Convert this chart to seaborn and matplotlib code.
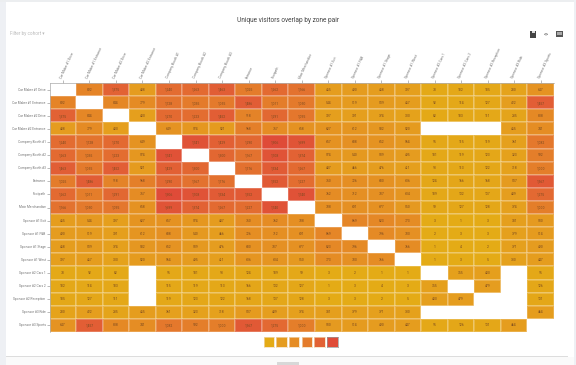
import numpy as np
import pandas as pd
import matplotlib
matplotlib.use('Agg')
import matplotlib.pyplot as plt
from matplotlib.colors import LinearSegmentedColormap
from matplotlib.patches import Rectangle
import seaborn as sns

zones = [
    'Car Maker #1 Drive', 'Car Maker #1 Entrance', 'Car Maker #2 Drive', 'Car Maker #2 Entrance',
    'Company Booth #1', 'Company Booth #2', 'Company Booth #3', 'Entrance', 'Footpath',
    'Main Merchandise', 'Sponsor #1 Exit', 'Sponsor #1 F&B', 'Sponsor #1 Stage', 'Sponsor #1 West',
    'Sponsor #2 Cars 1', 'Sponsor #2 Cars 2', 'Sponsor #2 Reception', 'Sponsor #3 Ride', 'Sponsor #3 Sports',
]

n = np.nan
overlap = [
    [n, 892, 1375, 488, 1240, 1263, 1463, 1025, 1262, 1166, 455, 490, 458, 397, 78, 102, 105, 280, 647],
    [892, n, 844, 779, 1128, 1035, 1055, 1486, 1011, 1050, 544, 519, 509, 457, 92, 114, 127, 422, 1457],
    [1375, 844, n, 400, 1270, 1223, 1452, 918, 1291, 1095, 397, 391, 374, 300, 82, 103, 111, 235, 808],
    [488, 779, 400, n, 649, 574, 521, 968, 757, 658, 627, 612, 582, 520, n, n, n, 455, 741],
    [1240, 1128, 1270, 649, n, 1741, 1429, 1290, 1906, 1699, 657, 688, 652, 564, 95, 115, 119, 361, 1082],
    [1263, 1035, 1223, 574, 1741, n, 1300, 1167, 1708, 1374, 574, 540, 539, 495, 101, 119, 123, 323, 992],
    [1463, 1055, 1452, 521, 1429, 1300, n, 1176, 1534, 1267, 487, 466, 476, 411, 93, 113, 122, 318, 1000],
    [1025, 1486, 918, 968, 1290, 1167, 1176, n, 1552, 1227, 750, 726, 680, 606, 124, 166, 168, 507, 1567],
    [1262, 1011, 1291, 757, 1906, 1708, 1534, 1552, n, 1740, 762, 712, 707, 604, 109, 132, 137, 439, 1275],
    [1166, 1050, 1095, 658, 1699, 1374, 1267, 1227, 1740, n, 708, 691, 677, 550, 99, 127, 128, 374, 1000],
    [455, 544, 397, 627, 657, 574, 487, 750, 762, 708, n, 869, 823, 773, 3, 1, 3, 381, 530],
    [490, 519, 391, 612, 688, 540, 466, 726, 712, 691, 869, n, 796, 700, 2, 3, 3, 379, 514],
    [458, 509, 374, 582, 652, 539, 476, 680, 707, 677, 823, 796, n, 766, 1, 4, 2, 371, 490],
    [397, 457, 300, 520, 564, 495, 411, 606, 604, 550, 773, 700, 766, n, 1, 3, 5, 330, 447],
    [78, 92, 82, n, 95, 101, 93, 124, 109, 99, 3, 2, 1, 1, n, 355, 400, n, 95],
    [102, 114, 103, n, 115, 119, 113, 166, 132, 127, 1, 3, 4, 3, 355, n, 479, n, 126],
    [105, 127, 111, n, 119, 123, 122, 168, 137, 128, 3, 3, 2, 5, 400, 479, n, n, 131],
    [280, 422, 235, 455, 361, 323, 318, 507, 439, 374, 381, 379, 371, 330, n, n, n, n, 464],
    [647, 1457, 808, 741, 1082, 992, 1000, 1567, 1275, 1000, 530, 514, 490, 447, 95, 126, 131, 464, n],
]
legend_colors = ['#e4ab16', '#e59c1f', '#e58c24', '#e47c2b', '#e26234', '#df4b38']
color_nodes = [0.0, 0.26, 0.40, 0.54, 0.72, 1.0]

W, H = 576, 365
plt.rcParams['font.family'] = ['Roboto', 'DejaVu Sans']
fig = plt.figure(figsize=(W / 100, H / 100), dpi=100, facecolor='white')


def box(x, y, w, h):
    # 像素坐标转成figure坐标
    return [x / W, 1 - (y + h) / H, w / W, h / H]


def band(x, y, w, h, color):
    fig.add_artist(Rectangle((x / W, 1 - (y + h) / H), w / W, h / H, transform=fig.transFigure,
                             color=color, lw=0))


# 页面边框
band(0, 0, 6, H, '#eef0f4')
band(0, 0, W, 2, '#eceef0')
band(574, 0, 2, H, '#eef0f4')
band(6, 356, 562, 1, '#dddddd')
band(6, 357, 568, 8, '#fafafa')
band(277, 362, 22, 3, '#d8d8d8')

ax = fig.add_axes(box(49.5, 83, 504.5, 249))
df = pd.DataFrame(overlap, index=zones, columns=zones)
cmap = LinearSegmentedColormap.from_list('overlap', list(zip(color_nodes, legend_colors)))
cmap.set_bad('white')

annot = df.map(lambda v: '' if np.isnan(v) else f'{int(v):,}')
sns.heatmap(df, ax=ax, cmap=cmap, vmin=0, vmax=1906, annot=annot, fmt='',
            annot_kws={'fontsize': 2.4, 'color': '#7a4a20'},
            linewidths=0.15, linecolor=(1, 1, 1, 0.2), cbar=False, square=False,
            xticklabels=zones, yticklabels=zones)

ax.xaxis.tick_top()
ax.set_xticklabels(zones, rotation=65, ha='left', va='bottom', rotation_mode='anchor',
                   fontsize=2.4, color='#777777')
ax.set_yticklabels(zones, rotation=0, fontsize=2.35, color='#777777')
ax.tick_params(axis='both', length=2, width=0.4, color='#888888', pad=0.8)
ax.set_xlabel('')
ax.set_ylabel('')
for side in ['left', 'top']:
    ax.spines[side].set_visible(True)
    ax.spines[side].set_linewidth(0.5)
    ax.spines[side].set_color('#aaaaaa')

fig.text(288 / W, 1 - 20 / H, 'Unique visitors overlap by zone pair', ha='center', va='center',
         fontsize=4.7, color='#444444')
fig.text(10.5 / W, 1 - 34 / H, 'Filter by cohort \u25be', ha='left', va='center', fontsize=3.3, color='#bbbbbb')

# 图例色块
for i, c in enumerate(legend_colors):
    leg = fig.add_axes(box(263.5 + i * 12.7, 336.5, 10.5, 10.5))
    leg.set_facecolor(c)
    leg.set_xticks([])
    leg.set_yticks([])
    for s in leg.spines.values():
        s.set_color('#f3dcb8' if i < 5 else '#999999')
        s.set_linewidth(0.5)

# 工具按钮
band(530, 31, 6, 6.5, '#444444')
band(531.5, 31, 3, 2, '#dddddd')
fig.text(546 / W, 1 - 34 / H, '<>', ha='center', va='center', fontsize=3.6, color='#555555')
band(556, 31, 6.5, 5.5, '#555555')
band(557, 32, 4.5, 3, '#aaaaaa')

fig.savefig('out.png', dpi=100)
